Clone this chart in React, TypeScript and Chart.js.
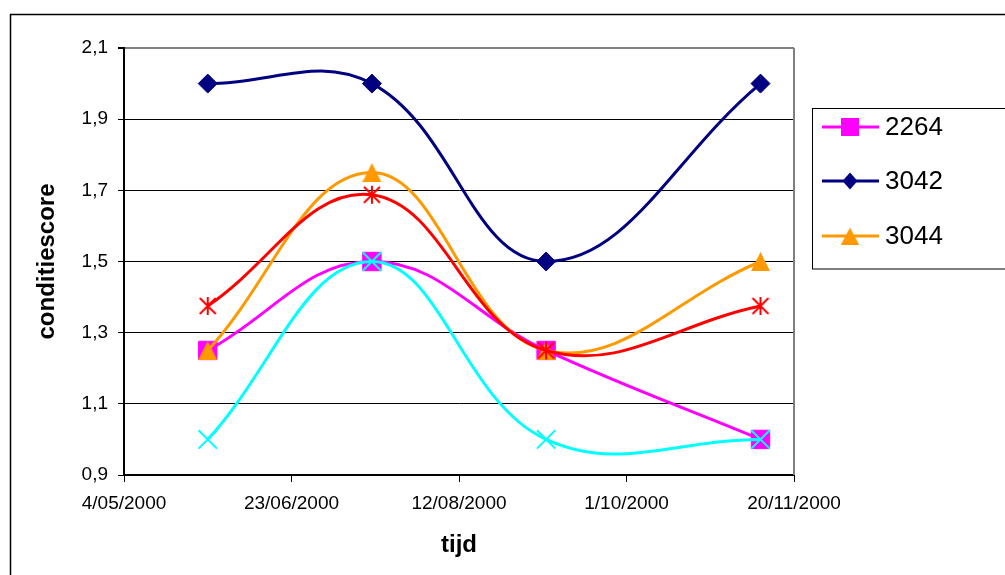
import React, { useEffect, useRef } from 'react';
import { Chart, registerables } from 'chart.js';

Chart.register(...registerables);

// ---- data ----
const seriesNames = ['2264', '3042', '3044', 'Reeks4', 'Reeks5'];
const sampleDates = [36675, 36724, 36776, 36840]; // Excel serial day numbers
const s2264 = [1.25, 1.5, 1.25, 1.0];
const s3042 = [2.0, 2.0, 1.5, 2.0];
const s3044 = [1.25, 1.75, 1.25, 1.5];
const sReeks4 = [1.375, 1.6875, 1.25, 1.375];
const sReeks5 = [1.0, 1.5, 1.0, 1.0];
const xTickValues = [36650, 36700, 36750, 36800, 36850];
const xTickLabels = ['4/05/2000', '23/06/2000', '12/08/2000', '1/10/2000', '20/11/2000'];
const yTickValues = [0.9, 1.1, 1.3, 1.5, 1.7, 1.9, 2.1];
const yTickLabels = ['0,9', '1,1', '1,3', '1,5', '1,7', '1,9', '2,1'];

const FONT = "'Liberation Sans', Arial, sans-serif";

function makeTriangle(color: string, w: number, h: number) {
  const c = document.createElement('canvas');
  c.width = w;
  c.height = h;
  const g = c.getContext('2d')!;
  g.fillStyle = color;
  g.beginPath();
  g.moveTo(w / 2, 0);
  g.lineTo(w, h);
  g.lineTo(0, h);
  g.closePath();
  g.fill();
  return c;
}

function makeStar(color: string, size: number, lw: number) {
  const c = document.createElement('canvas');
  c.width = size;
  c.height = size;
  const g = c.getContext('2d')!;
  g.strokeStyle = color;
  g.lineWidth = lw;
  const m = size / 2;
  g.beginPath();
  g.moveTo(m, 1);
  g.lineTo(m, size - 1);
  g.moveTo(2, 2);
  g.lineTo(size - 2, size - 2);
  g.moveTo(size - 2, 2);
  g.lineTo(2, size - 2);
  g.stroke();
  return c;
}

export default function App() {
  const ref = useRef<HTMLCanvasElement>(null);

  useEffect(() => {
    document.body.style.margin = '0';
    const canvas = ref.current!;
    const triImg = makeTriangle('#FF9900', 19, 19);
    const triLegend = makeTriangle('#FF9900', 18, 17);
    const starImg = makeStar('#FF0000', 20, 2);
    const toPts = (ys: number[]) => ys.map((y, i) => ({ x: sampleDates[i], y }));

    const base = { borderWidth: 3, tension: 0.4, fill: false };
    const datasets: any[] = [
      { ...base, label: seriesNames[0], data: toPts(s2264), borderColor: '#FF00FF', backgroundColor: '#FF00FF',
        pointStyle: 'rect', pointRadius: 13, pointBorderWidth: 1, pointBorderColor: '#FF00FF', pointBackgroundColor: '#FF00FF', order: 5, legendMarker: 'square' },
      { ...base, label: seriesNames[1], data: toPts(s3042), borderColor: '#000080', backgroundColor: '#000080',
        pointStyle: 'rectRot', pointRadius: 9.5, pointBorderWidth: 1, pointBorderColor: '#000080', pointBackgroundColor: '#000080', order: 4, legendMarker: 'diamond' },
      { ...base, label: seriesNames[2], data: toPts(s3044), borderColor: '#FF9900', backgroundColor: '#FF9900',
        pointStyle: triImg, pointRadius: 10, order: 3, legendMarker: 'triangle' },
      { ...base, label: seriesNames[3], data: toPts(sReeks4), borderColor: '#FF0000', backgroundColor: '#FF0000',
        pointStyle: starImg, pointRadius: 10, order: 2 },
      { ...base, label: seriesNames[4], data: toPts(sReeks5), borderColor: '#00FFFF', backgroundColor: '#00FFFF',
        pointStyle: 'crossRot', pointRadius: 13, pointBorderWidth: 2, pointBorderColor: '#00FFFF', order: 1 },
    ];

    const framePlugin = {
      id: 'frame',
      beforeDatasetsDraw(chart: any) {
        const { ctx, chartArea } = chart;
        ctx.save();
        ctx.strokeStyle = '#808080';
        ctx.lineWidth = 2;
        ctx.beginPath();
        ctx.moveTo(chartArea.right, chartArea.top);
        ctx.lineTo(chartArea.right, chartArea.bottom);
        ctx.stroke();
        ctx.restore();
      },
      afterDraw(chart: any) {
        const { ctx } = chart;
        ctx.save();
        // outer chart border
        ctx.strokeStyle = '#000';
        ctx.lineWidth = 1.5;
        ctx.strokeRect(10.5, 14.5, 1200, 700);
        // legend box
        ctx.lineWidth = 1;
        ctx.strokeRect(812.5, 108.5, 300, 160.5);
        const rows = [127, 181, 236];
        datasets.slice(0, 3).forEach((d, i) => {
          const y = rows[i];
          ctx.strokeStyle = d.borderColor;
          ctx.lineWidth = 3;
          ctx.beginPath();
          ctx.moveTo(822, y);
          ctx.lineTo(879, y);
          ctx.stroke();
          ctx.fillStyle = d.borderColor;
          const cx = 850;
          if (d.legendMarker === 'square') {
            ctx.fillRect(cx - 9, y - 9, 18, 18);
          } else if (d.legendMarker === 'diamond') {
            ctx.beginPath();
            ctx.moveTo(cx, y - 8.5);
            ctx.lineTo(cx + 7.5, y);
            ctx.lineTo(cx, y + 8.5);
            ctx.lineTo(cx - 7.5, y);
            ctx.closePath();
            ctx.fill();
          } else if (d.legendMarker === 'triangle') {
            ctx.drawImage(triLegend, cx - 9, y - 8.5);
          }
          ctx.fillStyle = '#000';
          ctx.font = `26px ${FONT}`;
          ctx.textBaseline = 'middle';
          ctx.textAlign = 'left';
          ctx.fillText(d.label, 885, y + 1);
        });
        ctx.restore();
      },
    };

    const chart = new Chart(canvas, {
      type: 'line',
      data: { datasets },
      plugins: [framePlugin],
      options: {
        animation: false,
        responsive: false,
        devicePixelRatio: 1,
        layout: { padding: { left: 0, top: 48, right: 211, bottom: 0 }, autoPadding: false },
        plugins: { legend: { display: false }, tooltip: { enabled: false } },
        scales: {
          x: {
            type: 'linear',
            min: xTickValues[0],
            max: xTickValues[xTickValues.length - 1],
            afterBuildTicks: (scale: any) => {
              scale.ticks = xTickValues.map((v) => ({ value: v }));
            },
            afterFit: (scale: any) => {
              scale.height = 100;
            },
            ticks: {
              autoSkip: false,
              maxRotation: 0,
              padding: 10,
              color: '#000',
              font: { family: FONT, size: 19 },
              callback: (_v: any, i: number) => xTickLabels[i],
            },
            grid: { drawOnChartArea: false, drawTicks: true, tickLength: 7, tickColor: '#000' },
            border: { display: true, color: '#000', width: 2 },
            title: {
              display: true,
              text: 'tijd',
              color: '#000',
              font: { family: FONT, size: 24, weight: 'bold' },
              padding: { top: 0, bottom: 15 },
            },
          },
          y: {
            type: 'linear',
            min: yTickValues[0],
            max: yTickValues[yTickValues.length - 1],
            afterBuildTicks: (scale: any) => {
              scale.ticks = yTickValues.map((v) => ({ value: v }));
            },
            afterFit: (scale: any) => {
              scale.width = 124;
            },
            ticks: {
              autoSkip: false,
              padding: 10,
              color: '#000',
              font: { family: FONT, size: 19 },
              callback: (_v: any, i: number) => yTickLabels[i],
            },
            grid: {
              color: (c: any) => (c.tick && c.tick.value === yTickValues[yTickValues.length - 1] ? '#808080' : '#000'),
              lineWidth: (c: any) => (c.tick && c.tick.value === yTickValues[yTickValues.length - 1] ? 2 : 1),
              tickLength: 6,
              tickColor: '#000',
            },
            border: { display: true, color: '#000', width: 2 },
            title: {
              display: true,
              text: 'conditiescore',
              color: '#000',
              font: { family: FONT, size: 24, weight: 'bold' },
              padding: { top: 33, bottom: 0 },
            },
          },
        },
      } as any,
    });
    return () => chart.destroy();
  }, []);

  return (
    <div style={{ width: 1005, height: 575 }}>
      <canvas ref={ref} width={1005} height={575} style={{ display: 'block' }} />
    </div>
  );
}
